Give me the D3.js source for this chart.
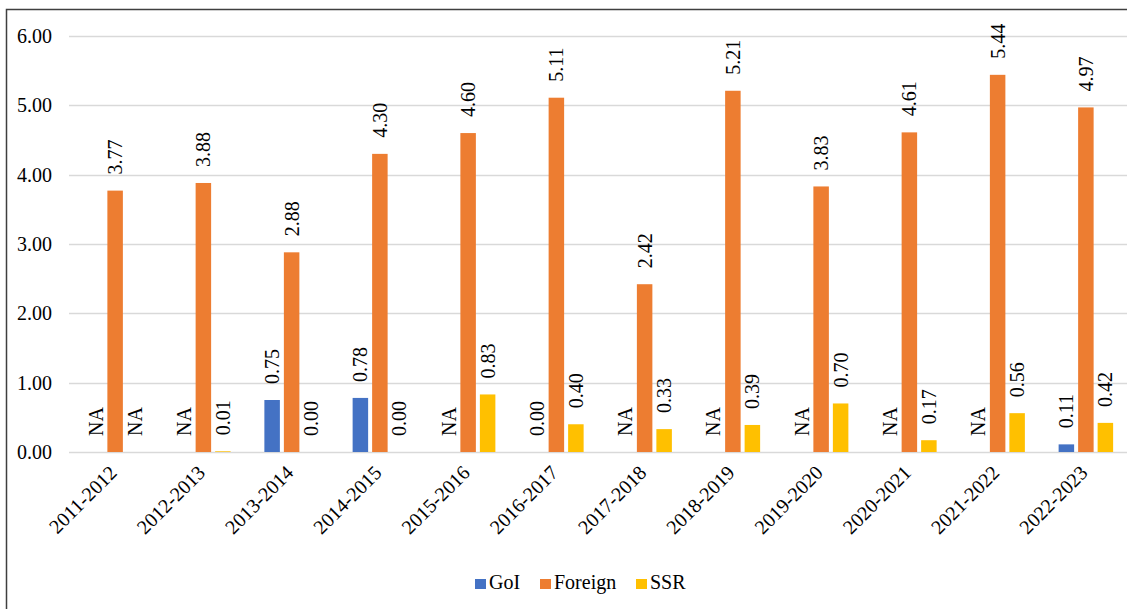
<!DOCTYPE html>
<html>
<head>
<meta charset="utf-8">
<script src="https://cdn.jsdelivr.net/npm/d3@7"></script>
</head>
<body style="margin:0">
<svg id="chart" width="1127" height="609" font-family="Liberation Serif"></svg>
<script>
// Financial years on the x axis
const categories = ["2011-2012", "2012-2013", "2013-2014", "2014-2015", "2015-2016", "2016-2017",
                    "2017-2018", "2018-2019", "2019-2020", "2020-2021", "2021-2022", "2022-2023"];
const seriesNames = ["GoI", "Foreign", "SSR"];
// null = not available (labelled "NA")
const goiValues     = [null, null, 0.75, 0.78, null, 0.00, null, null, null, null, null, 0.11];
const foreignValues = [3.77, 3.88, 2.88, 4.30, 4.60, 5.11, 2.42, 5.21, 3.83, 4.61, 5.44, 4.97];
const ssrValues     = [null, 0.01, 0.00, 0.00, 0.83, 0.40, 0.33, 0.39, 0.70, 0.17, 0.56, 0.42];
const yTicks = [0, 1, 2, 3, 4, 5, 6];
const colors = { GoI: "#4472C4", Foreign: "#ED7D31", SSR: "#FFC000" };

const seriesValues = { GoI: goiValues, Foreign: foreignValues, SSR: ssrValues };
const FONT = "Liberation Serif";
const fmt = d3.format(".2f");

const svg = d3.select("#chart");

const x = d3.scaleBand().domain(categories).range([71, 1130]).paddingInner(0).paddingOuter(0);
const xs = d3.scaleBand().domain(seriesNames).range([-27.25, 27.25]).paddingInner(0.205).paddingOuter(0);
const y = d3.scaleLinear().domain([0, 6]).range([452, 36]);

// gridlines
svg.append("g").selectAll("line").data(yTicks).join("line")
  .attr("x1", 69).attr("x2", 1127)
  .attr("y1", d => Math.round(y(d)) + 0.5).attr("y2", d => Math.round(y(d)) + 0.5)
  .attr("stroke", "#d9d9d9").attr("stroke-width", 1.5);

// y tick labels
svg.append("g").selectAll("text").data(yTicks).join("text")
  .attr("x", 52).attr("y", d => y(d))
  .attr("dy", "0.35em")
  .attr("text-anchor", "end")
  .attr("font-family", FONT).attr("font-size", 20)
  .attr("fill", "#000")
  .text(d => fmt(d));

// bars
const flat = [];
categories.forEach((c, i) => {
  seriesNames.forEach(s => flat.push({ cat: c, series: s, value: seriesValues[s][i] }));
});

svg.append("g").selectAll("rect").data(flat.filter(d => d.value !== null)).join("rect")
  .attr("x", d => x(d.cat) + x.bandwidth() / 2 + xs(d.series))
  .attr("width", xs.bandwidth())
  .attr("y", d => y(d.value))
  .attr("height", d => y(0) - y(d.value))
  .attr("fill", d => colors[d.series]);

// rotated value labels ("NA" where there is no figure)
svg.append("g").selectAll("text").data(flat).join("text")
  .attr("transform", d => {
    const cx = x(d.cat) + x.bandwidth() / 2 + xs(d.series) + xs.bandwidth() / 2;
    const top = y(d.value === null ? 0 : d.value) - 16;
    return `translate(${cx},${top}) rotate(-90)`;
  })
  .attr("text-anchor", "start")
  .attr("dy", "0.35em")
  .attr("font-family", FONT).attr("font-size", 20)
  .attr("fill", "#000")
  .text(d => d.value === null ? "NA" : fmt(d.value));

// x axis category labels
svg.append("g").selectAll("text").data(categories).join("text")
  .attr("transform", d => `translate(${x(d) + x.bandwidth() / 2 + 3},${474}) rotate(-45)`)
  .attr("text-anchor", "end")
  .attr("font-family", FONT).attr("font-size", 20)
  .attr("fill", "#000")
  .text(d => d);

// legend
const legendItems = [
  { name: "GoI", x: 475 },
  { name: "Foreign", x: 540 },
  { name: "SSR", x: 636 }
];
const lg = svg.append("g");
lg.selectAll("rect").data(legendItems).join("rect")
  .attr("x", d => d.x).attr("y", 579)
  .attr("width", 11).attr("height", 10)
  .attr("fill", d => colors[d.name]);
lg.selectAll("text").data(legendItems).join("text")
  .attr("x", d => d.x + 14).attr("y", 589)
  .attr("font-family", FONT).attr("font-size", 20)
  .attr("fill", "#000")
  .text(d => d.name);

// outer frame
svg.append("rect")
  .attr("x", 6.5).attr("y", 9.5)
  .attr("width", 1140).attr("height", 620)
  .attr("fill", "none").attr("stroke", "#3f3f3f").attr("stroke-width", 1.5);
</script>
</body>
</html>
